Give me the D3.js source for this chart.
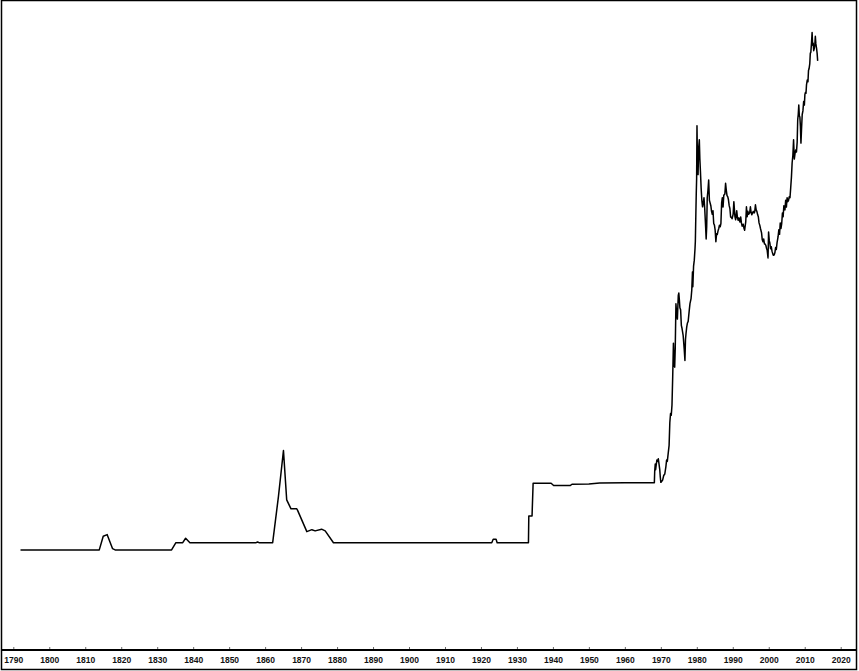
<!DOCTYPE html>
<html><head><meta charset="utf-8">
<script src="https://cdn.jsdelivr.net/npm/d3@7"></script>
<style>html,body{margin:0;padding:0;background:#fff;}svg{display:block;}</style>
</head><body>
<svg id="c" width="859" height="671"></svg>
<script>
// Tick labels (decades)
const tickYears = [1790,1800,1810,1820,1830,1840,1850,1860,1870,1880,1890,1900,1910,1920,1930,1940,1950,1960,1970,1980,1990,2000,2010,2020];

// Price series (USD per ounce, log scale)
const years = [
 1792,1813.9,1815.0,1816.1,1817.6,1818.3,1834.0,1835.2,1837.1,1837.9,1839.1,1857.5,1857.9,1858.3,1862.1,
 1863.7,1865.1,1866.0,1867.2,1868.8,1869.0,1871.6,1873.0,1873.9,1875.7,1876.7,1879.0,
 1923.0,1923.4,1924.2,1924.5,1933.2,1933.3,1934.2,1934.5,1939.5,1940.2,1944.8,1945.3,1950,1953,1960,1968.2,
 1968.3,1968.45,1968.55,1968.7,1968.9,1969.1,1969.3,1969.5,1969.7,1969.85,1970.0,1970.2,1970.5,1970.8,
 1971.1,1971.4,1971.6,1971.8,1972.0,1972.3,1972.5,1972.7,1972.9,1973.1,1973.3,1973.5,1973.7,1973.85,
 1974.0,1974.2,1974.35,1974.6,1974.85,1975.0,1975.15,1975.3,1975.5,1975.7,1975.9,1976.2,1976.5,1976.7,
 1976.85,1977.0,1977.2,1977.4,1977.6,1977.9,1978.1,1978.4,1978.6,1978.8,1978.9,1979.1,1979.3,1979.5,
 1979.6,1979.75,1979.85,1979.95,1980.05,1980.15,1980.25,1980.35,1980.5,1980.7,1980.85,1981.0,1981.2,
 1981.4,1981.6,1981.8,1982.0,1982.2,1982.45,1982.6,1982.75,1982.9,1983.1,1983.3,1983.5,1983.7,1983.9,
 1984.1,1984.3,1984.5,1984.7,1984.9,1985.1,1985.3,1985.5,1985.7,1985.9,1986.1,1986.3,1986.5,1986.7,
 1986.9,1987.1,1987.3,1987.5,1987.8,1988.0,1988.2,1988.4,1988.6,1988.8,1989.0,1989.2,1989.4,1989.6,
 1989.8,1990.1,1990.3,1990.6,1990.8,1991.1,1991.3,1991.5,1991.7,1992.0,1992.2,1992.4,1992.6,1992.9,
 1993.1,1993.3,1993.6,1993.8,1994.0,1994.2,1994.4,1994.7,1994.9,1995.1,1995.3,1995.5,1995.7,1995.9,
 1996.1,1996.3,1996.5,1996.7,1996.9,1997.1,1997.3,1997.5,1997.7,1998.0,1998.2,1998.4,1998.6,1998.8,
 1999.0,1999.2,1999.4,1999.55,1999.8,1999.95,2000.15,2000.3,2000.5,2000.7,2000.9,2001.1,2001.3,2001.5,
 2001.7,2001.9,2002.1,2002.3,2002.6,2002.8,2003.0,2003.2,2003.4,2003.6,2003.8,2004.0,2004.2,2004.5,
 2004.7,2004.9,2005.1,2005.3,2005.5,2005.7,2005.9,2006.1,2006.3,2006.5,2006.7,2006.9,2007.1,2007.3,
 2007.5,2007.7,2007.9,2008.05,2008.2,2008.35,2008.5,2008.65,2008.8,2008.95,2009.1,2009.3,2009.5,2009.7,
 2009.9,2010.05,2010.2,2010.35,2010.5,2010.7,2010.9,2011.05,2011.2,2011.4,2011.55,2011.7,2011.9,2012.05,
 2012.2,2012.35,2012.5,2012.65,2012.8,2012.95,2013.1,2013.3,2013.45,2013.6
];
const prices = [
 19.39,19.39,21.9,22.2,19.6,19.39,19.39,20.67,20.67,21.5,20.67,20.67,20.8,20.67,20.67,
 31.1,46.8,30.2,27.9,27.9,27.6,22.8,23.2,22.95,23.3,22.95,20.67,
 20.67,21.3,21.3,20.67,20.67,26.2,26.2,35,35,34.3,34.3,34.7,34.8,35.1,35.2,35.2,
 39,41.5,39.5,41,43,42.5,43.5,41.5,39.5,37,35.3,35.5,36,37.5,
 38,40.5,43,42.5,45,49,60,65,64,70,90,121,100,98,
 115,172,160,150,185,189,178,166,163,142,138,130,115,104,
 125,132,140,145,147,162,172,180,194,228,200,240,253,280,
 300,390,458,520,832,650,560,540,680,735,620,560,480,
 430,406,420,440,400,340,305,340,440,470,515,430,420,410,390,
 380,392,350,345,330,298,320,318,328,335,345,340,350,420,
 440,405,450,455,500,470,448,444,432,410,400,371,370,365,
 380,425,372,362,392,368,360,368,355,371,352,342,348,336,
 330,355,406,372,390,380,385,406,386,378,385,390,384,388,
 413,395,390,379,372,352,345,335,322,303,298,305,292,292,
 288,280,277,258,325,300,295,280,285,274,268,264,265,270,
 283,278,295,312,331,318,352,335,350,384,372,410,395,430,
 405,440,425,430,444,440,480,527,600,640,735,620,650,672,
 660,720,879,920,1000,910,900,830,714,800,920,950,1033,1000,
 1100,1120,1110,1200,1249,1230,1360,1380,1440,1582,1600,1750,1904,1700,
 1730,1620,1650,1700,1840,1720,1650,1582,1480,1360
];

const svg = d3.select('#c');

const x = d3.scaleLinear().domain([1790, 2020]).range([13.3, 840.7]);
const y = d3.scaleLog().domain([20.67, 1900]).range([542.7, 32.7]);

// frame
svg.append('rect').attr('x',1.5).attr('y',0.5).attr('width',855).attr('height',669)
  .attr('fill','none').attr('stroke','#000').attr('stroke-width',1.5);

// axis
const axis = d3.axisBottom(x)
  .tickValues(tickYears)
  .tickFormat(d3.format('d'))
  .tickSizeInner(-3).tickSizeOuter(0).tickPadding(7);
const ag = svg.append('g').attr('transform','translate(0,650)').call(axis);
ag.select('.domain').remove();
ag.selectAll('.tick line').attr('stroke','#666').attr('stroke-width',1);
ag.selectAll('.tick text').attr('font-family','"Liberation Sans", Arial, sans-serif')
  .attr('font-size','8.5px').attr('font-weight','bold').attr('fill','#111');
svg.append('line').attr('x1',1).attr('x2',857).attr('y1',650).attr('y2',650)
  .attr('stroke','#000').attr('stroke-width',2);

// line
const pts = years.map((yr,i)=>({t:yr,v:prices[i]}));
const line = d3.line().x(d=>x(d.t)).y(d=>y(d.v));
svg.append('path').datum(pts).attr('d',line)
  .attr('fill','none').attr('stroke','#000').attr('stroke-width',1.5)
  .attr('stroke-linejoin','round');
</script>
</body></html>
